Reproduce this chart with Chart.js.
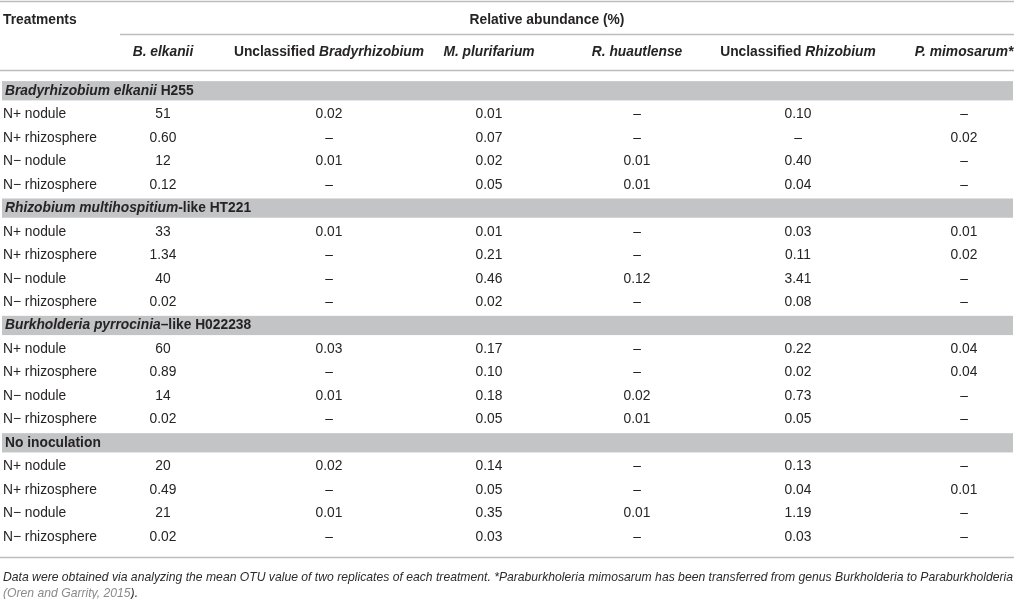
<!DOCTYPE html>
<html>
<head>
<meta charset="utf-8">
<script src="https://cdn.jsdelivr.net/npm/chart.js@4"></script>
<style>
html, body { margin: 0; padding: 0; background: #fff; }
#wrap { position: relative; width: 1016px; height: 599px; }
</style>
</head>
<body>
<div id="wrap"><canvas id="table"></canvas></div>
<script>
// column headings (plain prefix + italic taxon)
var columnPrefix = ["", "Unclassified ", "", "", "Unclassified ", ""];
var columnTaxon = ["B. elkanii", "Bradyrhizobium", "M. plurifarium", "R. huautlense", "Rhizobium", "P. mimosarum*"];

// treatment groups (italic species + plain rest)
var groupSpecies = ["Bradyrhizobium elkanii", "Rhizobium multihospitium", "Burkholderia pyrrocinia", ""];
var groupSuffix = [" H255", "-like HT221", "\u2013like H022238", "No inoculation"];

var treatments = ["N+ nodule", "N+ rhizosphere", "N\u2212 nodule", "N\u2212 rhizosphere"];

// relative abundance (%), null = not detected
var elkaniiH255 = [
    [51, 0.02, 0.01, null, 0.10, null],
    [0.60, null, 0.07, null, null, 0.02],
    [12, 0.01, 0.02, 0.01, 0.40, null],
    [0.12, null, 0.05, 0.01, 0.04, null]
];
var multihospitiumHT221 = [
    [33, 0.01, 0.01, null, 0.03, 0.01],
    [1.34, null, 0.21, null, 0.11, 0.02],
    [40, null, 0.46, 0.12, 3.41, null],
    [0.02, null, 0.02, null, 0.08, null]
];
var pyrrociniaH022238 = [
    [60, 0.03, 0.17, null, 0.22, 0.04],
    [0.89, null, 0.10, null, 0.02, 0.04],
    [14, 0.01, 0.18, 0.02, 0.73, null],
    [0.02, null, 0.05, 0.01, 0.05, null]
];
var noInoculation = [
    [20, 0.02, 0.14, null, 0.13, null],
    [0.49, null, 0.05, null, 0.04, 0.01],
    [21, 0.01, 0.35, 0.01, 1.19, null],
    [0.02, null, 0.03, null, 0.03, null]
];
var groupValues = [elkaniiH255, multihospitiumHT221, pyrrociniaH022238, noInoculation];

var footnote1 = "Data were obtained via analyzing the mean OTU value of two replicates of each treatment. *Paraburkholeria mimosarum has been transferred from genus Burkholderia to Paraburkholderia";
var footnoteRef = "(Oren and Garrity, 2015";
var footnoteEnd = ").";

// layout
var COL_X = [163, 329, 489, 637, 798, 964];
var LABEL_X = 3;
var FONT = "'Liberation Sans', Arial, Helvetica, sans-serif";
var SIZE = 13.8;
var INK = "#262324";
var RULE = "#bdbdbd";
var BAND = "#c3c4c6";

function fmt(v) {
    if (v === null) return "\u2013";
    return v >= 10 ? String(v) : v.toFixed(2);
}

var cells = [];
var rowLabels = [];
var groupRows = [];
groupValues.forEach(function (rows, g) {
    groupRows.push({ x: LABEL_X + 2, y: g * 5, species: groupSpecies[g], suffix: groupSuffix[g] });
    rows.forEach(function (row, r) {
        var slot = g * 5 + 1 + r;
        rowLabels.push({ x: LABEL_X, y: slot, text: treatments[r] });
        row.forEach(function (v, c) {
            cells.push({ x: COL_X[c], y: slot, text: fmt(v) });
        });
    });
});
var headRow = columnTaxon.map(function (t, c) {
    return { x: COL_X[c], y: -1.66, prefix: columnPrefix[c], taxon: t };
});

function font(style, weight) {
    return style + " " + weight + " " + SIZE + "px " + FONT;
}

function drawRuns(ctx, runs, x, y, align) {
    var total = 0;
    runs.forEach(function (r) { ctx.font = r.font; total += ctx.measureText(r.t).width; });
    var cx = align === "center" ? x - total / 2 : x;
    runs.forEach(function (r) {
        ctx.font = r.font;
        ctx.fillStyle = r.color || INK;
        ctx.fillText(r.t, cx, y);
        cx += ctx.measureText(r.t).width;
    });
}

var tablePlugin = {
    id: "tablePlugin",
    beforeDatasetsDraw: function (chart) {
        var ctx = chart.ctx;
        var xs = chart.scales.x, ys = chart.scales.y;
        ctx.save();
        // grey group bands
        ctx.fillStyle = BAND;
        groupRows.forEach(function (gr) {
            var top = ys.getPixelForValue(gr.y - 0.42);
            var bot = ys.getPixelForValue(gr.y + 0.40);
            var l = xs.getPixelForValue(2), r = xs.getPixelForValue(1013);
            ctx.fillRect(l, top, r - l, bot - top);
        });
        // horizontal rules
        ctx.strokeStyle = RULE;
        ctx.lineWidth = 1.5;
        [[0, -3.84], [120, -2.43], [0, -0.89], [0, 19.85]].forEach(function (ln) {
            var y = Math.round(ys.getPixelForValue(ln[1])) + 0.5;
            ctx.beginPath();
            ctx.moveTo(xs.getPixelForValue(ln[0]), y);
            ctx.lineTo(xs.getPixelForValue(1014), y);
            ctx.stroke();
        });
        ctx.restore();
    },
    afterDatasetsDraw: function (chart) {
        var ctx = chart.ctx;
        var xs = chart.scales.x, ys = chart.scales.y;
        ctx.save();
        ctx.textBaseline = "middle";

        // top headings
        ctx.textAlign = "left";
        drawRuns(ctx, [{ t: "Treatments", font: font("normal", "bold") }],
            xs.getPixelForValue(LABEL_X), ys.getPixelForValue(-3.0), "left");
        drawRuns(ctx, [{ t: "Relative abundance (%)", font: font("normal", "bold") }],
            xs.getPixelForValue(547), ys.getPixelForValue(-3.0), "center");

        // column headings
        var hm = chart.getDatasetMeta(3);
        headRow.forEach(function (h, i) {
            var el = hm.data[i];
            var runs = [];
            if (h.prefix) runs.push({ t: h.prefix, font: font("normal", "bold") });
            runs.push({ t: h.taxon, font: font("italic", "bold") });
            drawRuns(ctx, runs, el.x, el.y, "center");
        });

        // group band titles
        var gm = chart.getDatasetMeta(2);
        groupRows.forEach(function (gr, i) {
            var el = gm.data[i];
            var runs = [];
            if (gr.species) runs.push({ t: gr.species, font: font("italic", "bold") });
            runs.push({ t: gr.suffix, font: font("normal", "bold") });
            drawRuns(ctx, runs, el.x, el.y, "left");
        });

        // treatment labels
        var lm = chart.getDatasetMeta(1);
        ctx.font = font("normal", "normal");
        ctx.fillStyle = INK;
        ctx.textAlign = "left";
        rowLabels.forEach(function (lb, i) {
            var el = lm.data[i];
            ctx.fillText(lb.text, el.x, el.y);
        });

        // cell values
        var cm = chart.getDatasetMeta(0);
        ctx.textAlign = "center";
        cells.forEach(function (c, i) {
            var el = cm.data[i];
            ctx.fillText(c.text, el.x, el.y);
        });

        // footnote
        ctx.textAlign = "left";
        ctx.font = "italic normal 12.8px " + FONT;
        var x0 = xs.getPixelForValue(LABEL_X);
        var avail = xs.getPixelForValue(1013) - x0;
        var w = ctx.measureText(footnote1).width;
        var k = Math.min(1, avail / w);
        ctx.translate(x0, 0);
        ctx.scale(k, 1);
        ctx.fillStyle = "#2b2b2b";
        ctx.fillText(footnote1, 0, ys.getPixelForValue(20.72));
        ctx.fillStyle = "#8a8a8a";
        ctx.fillText(footnoteRef, 0, ys.getPixelForValue(21.40));
        var rw = ctx.measureText(footnoteRef).width;
        ctx.fillStyle = "#2b2b2b";
        ctx.fillText(footnoteEnd, rw, ys.getPixelForValue(21.40));
        ctx.restore();
    }
};

new Chart(document.getElementById("table"), {
    type: "scatter",
    data: {
        datasets: [
            { label: "cells", data: cells, pointRadius: 0 },
            { label: "treatments", data: rowLabels, pointRadius: 0 },
            { label: "groups", data: groupRows, pointRadius: 0 },
            { label: "headings", data: headRow, pointRadius: 0 }
        ]
    },
    options: {
        responsive: true,
        maintainAspectRatio: false,
        animation: false,
        layout: { padding: 0 },
        plugins: {
            legend: { display: false },
            tooltip: { enabled: false }
        },
        scales: {
            x: { type: "linear", min: 0, max: 1016, display: false },
            y: { type: "linear", min: -3.877, max: 21.645, reverse: true, display: false }
        }
    },
    plugins: [tablePlugin]
});
</script>
</body>
</html>
